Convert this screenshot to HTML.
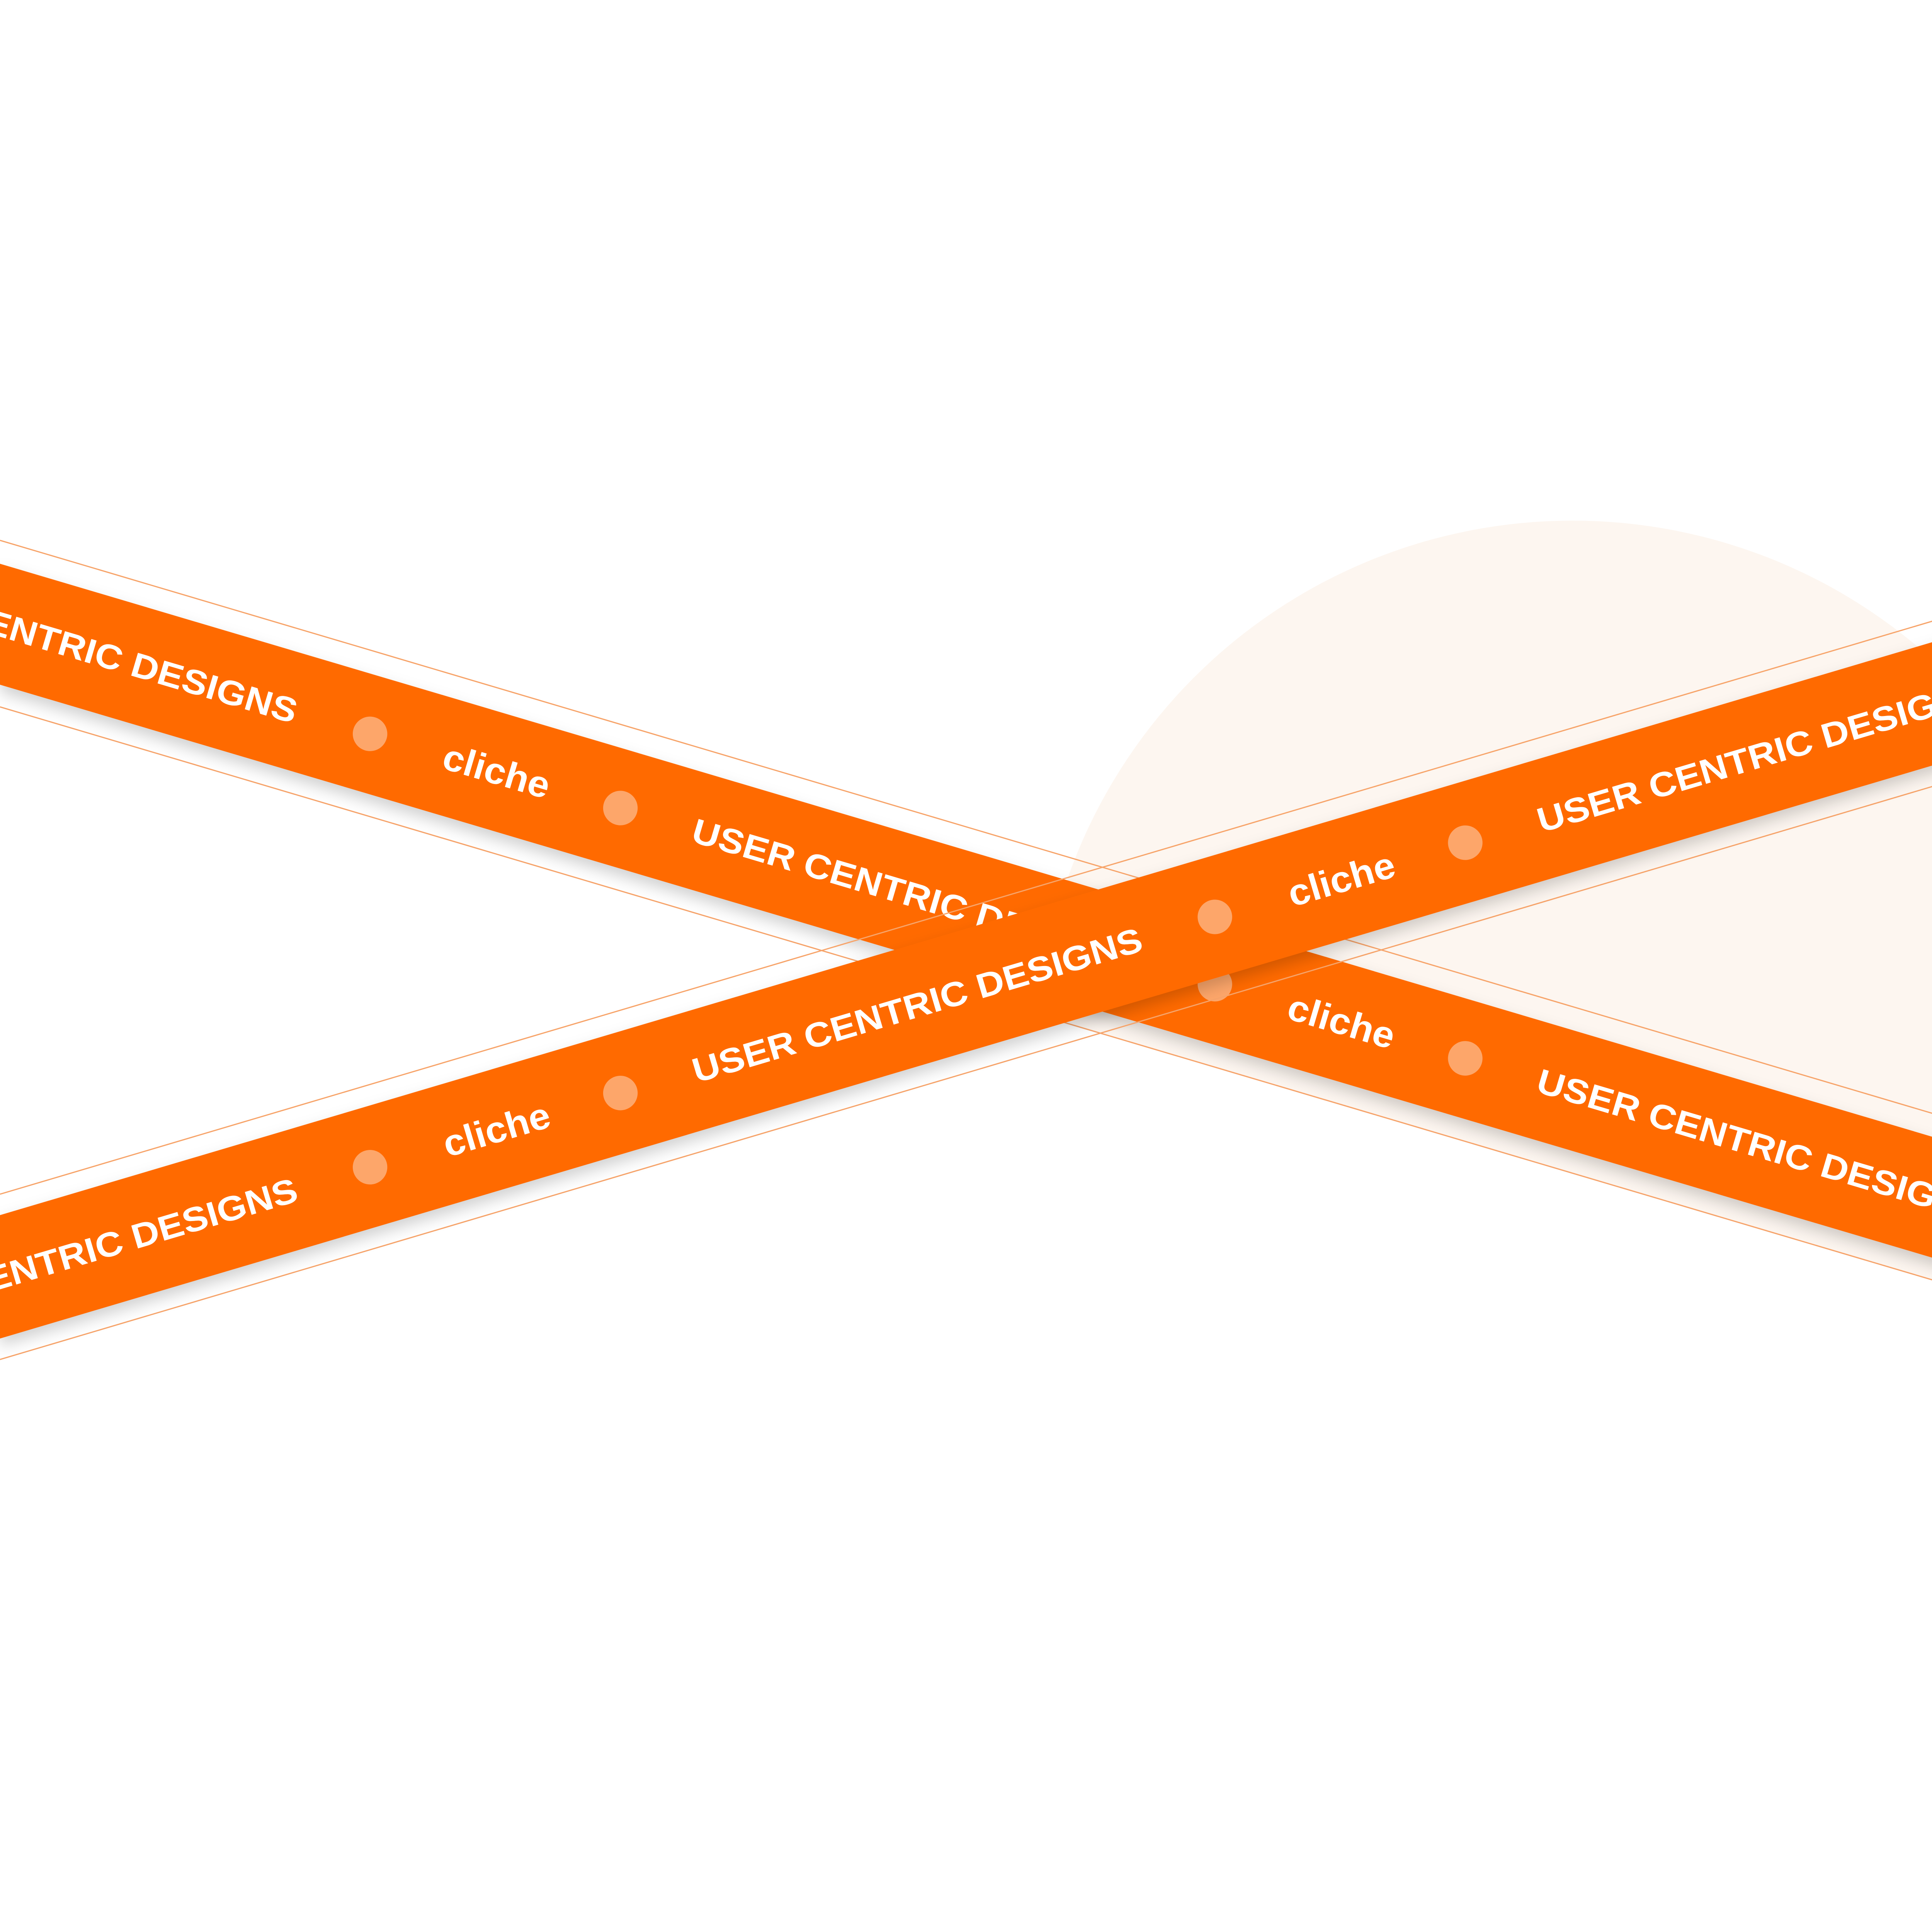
<!DOCTYPE html>
<html><head><meta charset="utf-8"><style>html,body{margin:0;padding:0;background:#fff;overflow:hidden;width:5120px;height:5070px}svg{display:block}</style></head>
<body>
<svg width="5120" height="5070" viewBox="0 0 1604 1588" preserveAspectRatio="none" xmlns="http://www.w3.org/2000/svg">
<defs>
<filter id="sh" x="-10%" y="-50%" width="120%" height="200%"><feDropShadow dx="0" dy="6" stdDeviation="6" flood-color="#000" flood-opacity="0.18"/></filter>
<clipPath id="cc"><polygon points="0,0 1700,0 1700,1077 0,573"/></clipPath>
</defs>
<rect width="1604" height="1588" fill="#fff"/>
<circle cx="1275" cy="856" r="434" fill="#fdf6f0" clip-path="url(#cc)"/>
<g>
<line x1="0" y1="438" x2="1700" y2="942" stroke="#f7a46a" stroke-width="1"/>
<line x1="0" y1="573" x2="1700" y2="1077" stroke="#f7a46a" stroke-width="1"/>
<polygon points="0,457 1700,961 1700,1059 0,555" fill="#ff6a00" filter="url(#sh)"/>
<g id="t1" transform="translate(0,506) rotate(16.5)"></g>
</g>
<g>
<line x1="0" y1="968" x2="1700" y2="464" stroke="#f7a46a" stroke-width="1"/>
<line x1="0" y1="1102" x2="1700" y2="598" stroke="#f7a46a" stroke-width="1"/>
<polygon points="0,985 1700,481 1700,581 0,1085" fill="#ff6a00" filter="url(#sh)"/>
<g id="t2" transform="translate(0,1035) rotate(-16.5)"></g>
</g>
<script>
const NS='http://www.w3.org/2000/svg';
const k=1.0429;
function fill(id){
  const g=document.getElementById(id);
  for(let r=-1;r<=2;r++){
    const o=r*685;
    const t=document.createElementNS(NS,'text');
    
    
    t.setAttribute('x',((o-123)*k).toFixed(1));t.setAttribute('y','0');
    t.setAttribute('dominant-baseline','central');
    t.setAttribute('textLength','379');t.setAttribute('lengthAdjust','spacingAndGlyphs');
    t.setAttribute('style','font:bold 28px "Liberation Sans",sans-serif;fill:#fff');
    t.textContent='USER CENTRIC DESIGNS';g.appendChild(t);
    const c=document.createElementNS(NS,'text');
    
    
    c.setAttribute('x',((o+360)*k).toFixed(1));c.setAttribute('y','0');
    c.setAttribute('dominant-baseline','central');
    c.setAttribute('textLength','89');c.setAttribute('lengthAdjust','spacingAndGlyphs');
    c.setAttribute('style','font:bold 30px "Liberation Sans",sans-serif;fill:#fff');
    c.textContent='cliche';g.appendChild(c);
    [300,503].forEach(x=>{
      const d=document.createElementNS(NS,'circle');
      
      
      d.setAttribute('cx',((o+x)*k).toFixed(1));d.setAttribute('cy','0');d.setAttribute('r','14');
      d.setAttribute('fill','#fda66a');g.appendChild(d);
    });
  }
}
fill('t1');fill('t2');
</script>
</svg>
</body></html>
